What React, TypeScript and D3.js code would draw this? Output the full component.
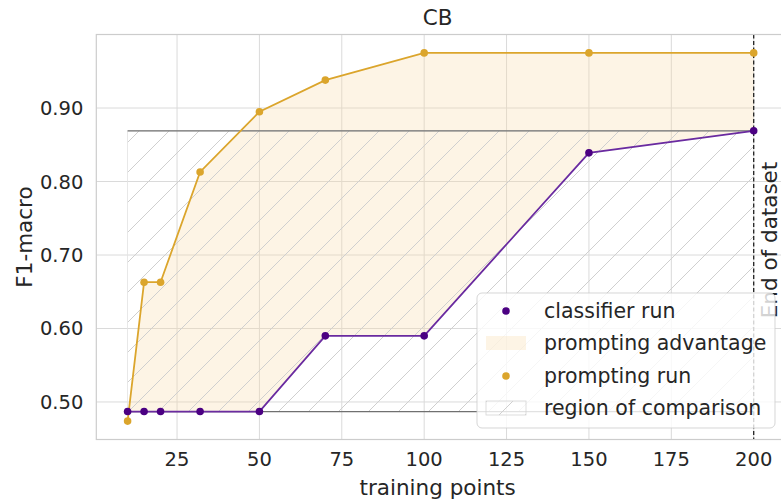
import React from "react";
import * as d3 from "d3";

const trainingPoints = [10, 15, 20, 32, 50, 70, 100, 150, 200];
const promptingRun = [0.474, 0.663, 0.663, 0.813, 0.895, 0.938, 0.975, 0.975, 0.975];
const classifierRun = [0.487, 0.487, 0.487, 0.487, 0.487, 0.59, 0.59, 0.839, 0.869];
const xTicks = [25, 50, 75, 100, 125, 150, 175, 200];
const yTicks = [0.5, 0.6, 0.7, 0.8, 0.9];
const legendLabels = ["classifier run", "prompting advantage", "prompting run", "region of comparison"];
const title = "CB";
const xLabel = "training points";
const yLabel = "F1-macro";
const endLabel = "End of dataset";

const W = 781;
const H = 501;
const plot = { left: 96.3, right: 785, top: 34.5, bottom: 439.5 };
const FONT = "DejaVu Sans, sans-serif";
const TEXT = "#262626";
const PURPLE_LINE = "#6a2ba0";
const PURPLE_DOT = "#4b0082";
const GOLD = "#dba52c";

export default function App() {
  const xMin = d3.min(trainingPoints)!;
  const xMax = d3.max(trainingPoints)!;
  const xm = (xMax - xMin) * 0.05;
  const allY = promptingRun.concat(classifierRun);
  const yMin = d3.min(allY)!;
  const yMax = d3.max(allY)!;
  const ym = (yMax - yMin) * 0.05;
  const x = d3.scaleLinear().domain([xMin - xm, xMax + xm]).range([plot.left, plot.right]);
  const y = d3.scaleLinear().domain([yMin - ym, yMax + ym]).range([plot.bottom, plot.top]);

  type P = { x: number; lo: number; hi: number };
  const pts: P[] = [];
  for (let i = 0; i < trainingPoints.length; i++) {
    const d = promptingRun[i] - classifierRun[i];
    if (i > 0) {
      const dp = promptingRun[i - 1] - classifierRun[i - 1];
      if ((dp < 0 && d > 0) || (dp > 0 && d < 0)) {
        const t = dp / (dp - d);
        const xc = trainingPoints[i - 1] + t * (trainingPoints[i] - trainingPoints[i - 1]);
        const yc = classifierRun[i - 1] + t * (classifierRun[i] - classifierRun[i - 1]);
        pts.push({ x: xc, lo: yc, hi: yc });
      }
    }
    pts.push({ x: trainingPoints[i], lo: classifierRun[i], hi: Math.max(promptingRun[i], classifierRun[i]) });
  }
  const area = d3
    .area<P>()
    .x((d) => x(d.x))
    .y0((d) => y(d.lo))
    .y1((d) => y(d.hi));
  const pLine = d3
    .line<number>()
    .x((_, i) => x(trainingPoints[i]))
    .y((d) => y(d))(promptingRun)!;
  const cLine = d3
    .line<number>()
    .x((_, i) => x(trainingPoints[i]))
    .y((d) => y(d))(classifierRun)!;

  const regTop = classifierRun[classifierRun.length - 1];
  const regBot = d3.min(classifierRun)!;
  const rx0 = x(xMin);
  const rx1 = x(xMax);
  const ry0 = y(regTop);
  const ry1 = y(regBot);

  const lg = { x: 477, y: 293, w: 298, h: 135 };
  const rowY = [311, 343, 376, 408];

  return (
    <svg
      width={W}
      height={H}
      style={{ position: "absolute", left: 0, top: 0, display: "block", background: "#fff" }}
      fontFamily={FONT}
    >
      <defs>
        <pattern id="hatch" patternUnits="userSpaceOnUse" width={30} height={30}>
          <path d="M-3,33 L33,-3 M-33,33 L3,-3 M27,33 L63,-3" stroke="#cfcfcf" strokeWidth={1} fill="none" />
        </pattern>
        <pattern id="hatchL" patternUnits="userSpaceOnUse" width={26} height={26} x={486} y={402}>
          <path d="M-3,29 L29,-3 M-29,29 L3,-3 M23,29 L55,-3" stroke="#cfcfcf" strokeWidth={1} fill="none" />
        </pattern>
        <clipPath id="plotClip">
          <rect x={plot.left} y={plot.top} width={plot.right - plot.left} height={plot.bottom - plot.top} />
        </clipPath>
      </defs>
      <rect x={0} y={0} width={W} height={H} fill="#fff" />
      {xTicks.map((t) => (
        <line key={"gx" + t} x1={x(t)} x2={x(t)} y1={plot.top} y2={plot.bottom} stroke="#dadada" strokeWidth={1} />
      ))}
      {yTicks.map((t) => (
        <line key={"gy" + t} x1={plot.left} x2={plot.right} y1={y(t)} y2={y(t)} stroke="#dadada" strokeWidth={1} />
      ))}
      <g clipPath="url(#plotClip)">
        <path d={area(pts)!} fill="#f9d9a9" fillOpacity={0.3} />
        <rect x={rx0} y={ry0} width={rx1 - rx0} height={ry1 - ry0} fill="url(#hatch)" stroke="#e3e3e3" strokeWidth={0.8} />
        <line x1={rx0} x2={rx1} y1={ry0} y2={ry0} stroke="#707070" strokeWidth={1.3} />
        <line x1={rx0} x2={rx1} y1={ry1} y2={ry1} stroke="#707070" strokeWidth={1.3} />
        <line x1={x(xMax)} x2={x(xMax)} y1={plot.top} y2={plot.bottom} stroke="#222" strokeWidth={1.3} strokeDasharray="4,2.5" />
        <path d={pLine} fill="none" stroke={GOLD} strokeWidth={1.8} />
        {promptingRun.map((v, i) => (
          <circle key={"pd" + i} cx={x(trainingPoints[i])} cy={y(v)} r={3.8} fill={GOLD} />
        ))}
        <path d={cLine} fill="none" stroke={PURPLE_LINE} strokeWidth={1.8} />
        {classifierRun.map((v, i) => (
          <circle key={"cd" + i} cx={x(trainingPoints[i])} cy={y(v)} r={3.8} fill={PURPLE_DOT} />
        ))}
      </g>
      <rect x={plot.left} y={plot.top} width={plot.right - plot.left} height={plot.bottom - plot.top} fill="none" stroke="#cccccc" strokeWidth={1.2} />
      <text
        transform={`translate(777,${(plot.top + plot.bottom) / 2 + 3}) rotate(-90)`}
        textAnchor="middle"
        fontSize={21.5}
        fill={TEXT}
      >
        {endLabel}
      </text>
      {xTicks.map((t) => (
        <text key={"tx" + t} x={x(t)} y={plot.bottom + 26} textAnchor="middle" fontSize={19.5} fill={TEXT}>
          {t}
        </text>
      ))}
      {yTicks.map((t) => (
        <text key={"ty" + t} x={plot.left - 13} y={y(t) + 7} textAnchor="end" fontSize={19.5} fill={TEXT}>
          {t.toFixed(2)}
        </text>
      ))}
      <text x={(plot.left + plot.right) / 2 - 3} y={25} textAnchor="middle" fontSize={21.5} fill={TEXT}>
        {title}
      </text>
      <text x={(plot.left + plot.right) / 2 - 3} y={495} textAnchor="middle" fontSize={21.5} fill={TEXT}>
        {xLabel}
      </text>
      <text transform={`translate(32,${(plot.top + plot.bottom) / 2}) rotate(-90)`} textAnchor="middle" fontSize={21.5} fill={TEXT}>
        {yLabel}
      </text>
      <rect x={lg.x} y={lg.y} width={lg.w} height={lg.h} rx={5} fill="#fff" fillOpacity={0.8} stroke="#cccccc" strokeOpacity={0.8} strokeWidth={1} />
      <circle cx={506} cy={rowY[0]} r={3.8} fill={PURPLE_DOT} />
      <rect x={486} y={rowY[1] - 7} width={40} height={14} fill="#f9d9a9" fillOpacity={0.3} />
      <circle cx={506} cy={rowY[2]} r={3.8} fill={GOLD} />
      <rect x={486} y={rowY[3] - 7} width={40} height={14} fill="url(#hatchL)" stroke="#d5d5d5" strokeWidth={0.8} />
      {legendLabels.map((l, i) => (
        <text key={l} x={544} y={rowY[i] + 7} fontSize={20.5} fill={TEXT}>
          {l}
        </text>
      ))}
    </svg>
  );
}
